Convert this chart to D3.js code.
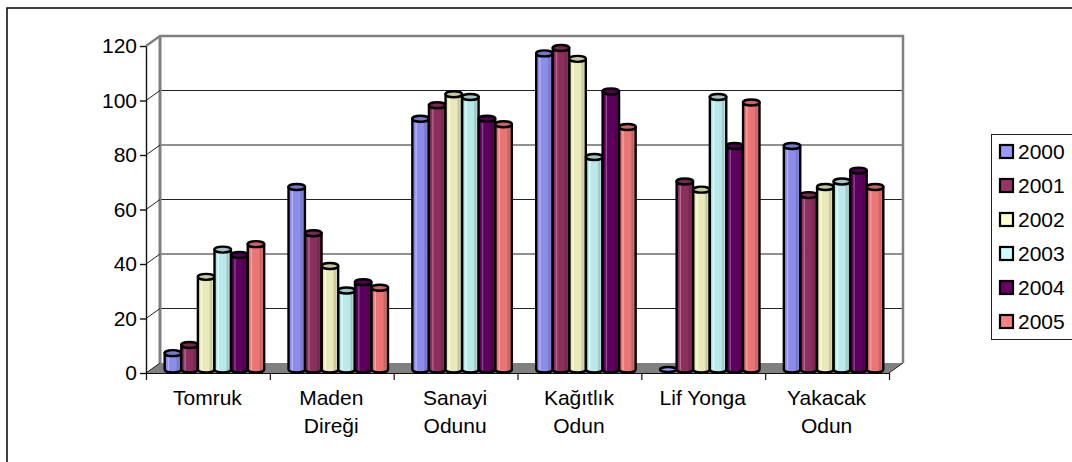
<!DOCTYPE html>
<html><head><meta charset="utf-8">
<script src="https://cdnjs.cloudflare.com/ajax/libs/d3/7.8.5/d3.min.js"></script>
<style>html,body{margin:0;padding:0;background:#fff;overflow:hidden}text{font-family:"Liberation Sans",Arial,sans-serif;fill:#000}</style>
</head><body><svg id="c" width="1072" height="462"></svg>
<script>
const categories=["Tomruk","Maden Direği","Sanayi Odunu","Kağıtlık Odun","Lif Yonga","Yakacak Odun"];
const categoryLines=[["Tomruk"],["Maden","Direği"],["Sanayi","Odunu"],["Kağıtlık","Odun"],["Lif Yonga"],["Yakacak","Odun"]];
const years=["2000","2001","2002","2003","2004","2005"];
const s2000=[6,67,92,116,0,82];
const s2001=[9,50,97,118,69,64];
const s2002=[34,38,101,114,66,67];
const s2003=[44,29,100,78,100,69];
const s2004=[42,32,92,102,82,73];
const s2005=[46,30,90,89,98,67];
const seriesValues=[s2000,s2001,s2002,s2003,s2004,s2005];
const colors=["#9999ff","#993366","#ffffcc","#ccffff","#660066","#ff8080"];
const yTicks=[0,20,40,60,80,100,120];

const svg=d3.select("#c");
const dx=14,dy=-10;
const fontPx="21px";
const y=d3.scaleLinear().domain([0,120]).range([373,46]);
const xEdge=d3.scaleLinear().domain([0,6]).range([146,889]);
const x0=d3.scaleBand().domain(categories).range([152,895]).paddingInner(.195).paddingOuter(.0975);
const x1=d3.scaleBand().domain(years).range([0,x0.bandwidth()]);
const lightBase=3.5, barBase=y(0)-3.5;

svg.append("rect").attr("x",7).attr("y",8).attr("width",1100).attr("height",500)
  .attr("fill","#fff").attr("stroke","#000").attr("stroke-width",1.5);

// gradients
const defs=svg.append("defs");
colors.forEach((c,i)=>{
  const col=d3.color(c);
  const g=defs.append("linearGradient").attr("id","g"+i);
  const base=col.darker(.25), lite=d3.interpolateRgb(col,"#fff")(.3), dark=col.darker(.75);
  [[0,col.darker(.5)],[.15,base],[.24,lite],[.3,base],[.68,base],[.8,dark],[.9,col.darker(.35)],[1,dark]]
   .forEach(([o,k])=>g.append("stop").attr("offset",o).attr("stop-color",k));
});

// floor and walls
const wall="#808080";
svg.append("path").attr("d",d3.line()([[xEdge(0),y(0)],[xEdge(0)+dx,y(0)+dy],[xEdge(6)+dx,y(0)+dy],[xEdge(6),y(0)]])+"Z").attr("fill",wall);
// gridlines
svg.append("g").selectAll("line").data(yTicks.slice(1,-1)).join("line")
  .attr("x1",xEdge(0)+dx).attr("x2",xEdge(6)+dx).attr("y1",d=>y(d)+dy).attr("y2",d=>y(d)+dy)
  .attr("stroke","#222").attr("stroke-width",1.2);
svg.append("path").attr("d",d3.line()([[xEdge(0),y(120)],[xEdge(0)+dx,y(120)+dy],[xEdge(6)+dx,y(120)+dy],[xEdge(6)+dx,y(0)+dy]]))
  .attr("fill","none").attr("stroke",wall).attr("stroke-width",2.5);
svg.append("line").attr("x1",xEdge(0)+dx).attr("x2",xEdge(0)+dx).attr("y1",y(120)+dy).attr("y2",y(0)+dy).attr("stroke",wall).attr("stroke-width",3);
svg.append("line").attr("x1",xEdge(6)).attr("x2",xEdge(6)+dx).attr("y1",y(0)).attr("y2",y(0)+dy).attr("stroke","#222").attr("stroke-width",1);
// slanted tick connectors
svg.append("g").selectAll("line").data(yTicks.slice(0,-1)).join("line")
  .attr("x1",xEdge(0)).attr("x2",xEdge(0)+dx).attr("y1",d=>y(d)).attr("y2",d=>y(d)+dy)
  .attr("stroke","#222").attr("stroke-width",1);

// axes
const yAxis=svg.append("g").attr("transform",`translate(${xEdge(0)},0)`)
  .call(d3.axisLeft(y).tickValues(yTicks).tickSize(6).tickSizeOuter(0).tickPadding(3));
yAxis.selectAll("text").style("font-size",fontPx).attr("font-family","Liberation Sans");
yAxis.selectAll("line,path").attr("stroke","#111").attr("stroke-width",1.4);
const xAxis=svg.append("g").attr("transform",`translate(0,${y(0)})`)
  .call(d3.axisBottom(xEdge).tickValues(d3.range(7)).tickFormat("").tickSize(7).tickSizeOuter(0));
xAxis.selectAll("line,path").attr("stroke","#111").attr("stroke-width",1.2);

// category labels
const lab=svg.append("g").selectAll("text").data(categories).join("text")
  .attr("text-anchor","middle").style("font-size",fontPx);
lab.each(function(d,i){
  d3.select(this).selectAll("tspan").data(categoryLines[i]).join("tspan")
    .attr("x",(xEdge(i)+xEdge(i+1))/2-.5).attr("y",(t,j)=>404.5+j*28).text(t=>t);
});

// cylinders
const ry=3;
const rows=svg.append("g").selectAll("g").data(years).join("g");
rows.each(function(yr,si){
  const g=d3.select(this);
  seriesValues[si].forEach((v,ci)=>{
    const left=x0(categories[ci])+x1(yr)+.6, w=x1.bandwidth()-.2, rx=w/2, cx=left+rx;
    const top=y(v)-lightBase;
    if(v===0){
      g.append("ellipse").attr("cx",cx).attr("cy",top).attr("rx",rx).attr("ry",ry-.5)
       .attr("fill",colors[si]).attr("stroke","#000").attr("stroke-width",2.4);
      return;
    }
    g.append("path").attr("d",`M${left},${top}V${barBase}A${rx},${ry} 0 0 0 ${left+w},${barBase}V${top}Z`)
     .attr("fill",`url(#g${si})`).attr("stroke","#000").attr("stroke-width",2.4);
    g.append("ellipse").attr("cx",cx).attr("cy",top).attr("rx",rx).attr("ry",ry)
     .attr("fill",d3.color(colors[si]).darker(.7)).attr("stroke","#000").attr("stroke-width",2.4);
  });
});

// legend
const legY=d3.scalePoint().domain(years).range([151.5,321.5]);
svg.append("rect").attr("x",991.5).attr("y",134.5).attr("width",120).attr("height",205)
  .attr("fill","#fff").attr("stroke","#222").attr("stroke-width",1);
const leg=svg.append("g").selectAll("g").data(years).join("g").attr("transform",d=>`translate(0,${legY(d)})`);
leg.append("rect").attr("x",1000).attr("y",-6.5).attr("width",13).attr("height",13)
  .attr("fill",(d,i)=>colors[i]).attr("stroke","#000").attr("stroke-width",2.2);
leg.append("text").attr("x",1018).attr("y",7).style("font-size",fontPx).text(d=>d);
</script></body></html>
